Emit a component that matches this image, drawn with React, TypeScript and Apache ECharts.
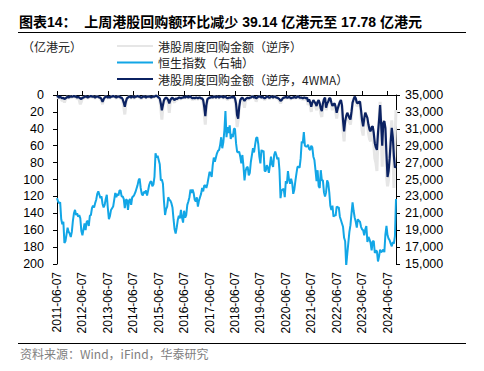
import React, { useEffect, useRef } from 'react';
import * as echarts from 'echarts';

// ---------- categories (semi-monthly dates, 2011-06-07 .. 2024-10-07) ----------
const dates: string[] = [];
for (let k = 0; k < 161; k++) {
  const t = 2011 * 12 + 5 + k;
  const y = Math.floor(t / 12);
  const mm = String((t % 12) + 1).padStart(2, '0');
  dates.push(`${y}-${mm}-07`);
  if (k < 160) dates.push(`${y}-${mm}-21`);
}

// ---------- 恒生指数 (right axis) ----------
const hsi2011 = [22800, 22400, 22200, 22300, 20300, 19700, 20000, 17500, 17700, 18500, 19300, 18800, 18600, 18200];
const hsi2012 = [18800, 20100, 21000, 21400, 20800, 21000, 20600, 20800, 20400, 18900, 18400, 19100, 19800, 19000, 20000, 20100, 19500, 20700, 20800, 21600, 21900, 21700, 22200, 22600];
const hsi2013 = [23300, 23600, 23200, 22800, 23000, 22100, 21700, 22000, 22700, 23200, 21600, 20300, 20700, 21400, 21600, 21800, 22600, 23400, 22900, 23300, 23100, 23700, 23700, 23000];
const hsi2014 = [23000, 22700, 21600, 22600, 22600, 21400, 22500, 22700, 22000, 22900, 23000, 23200, 23500, 23900, 24300, 24900, 25100, 24000, 23300, 23100, 23550, 23400, 23700, 23100];
const hsi2015 = [23700, 24350, 24700, 24800, 24200, 24400, 25300, 28100, 27600, 27800, 27300, 26800, 24900, 25000, 24500, 22400, 20800, 21500, 21800, 22900, 22600, 22500, 22200, 21700];
const hsi2016 = [20300, 19100, 18600, 19300, 20200, 20700, 20400, 21400, 20500, 19900, 21300, 20500, 20800, 22000, 22400, 22900, 23800, 23400, 23800, 23400, 22600, 22400, 22900, 21800];
const hsi2017 = [22500, 22900, 23300, 24000, 23600, 24300, 24300, 24000, 24500, 25200, 25900, 25700, 25300, 26700, 27600, 27100, 27600, 28100, 28400, 28500, 29100, 30000, 28700, 29400];
const hsi2018 = [30800, 33100, 30000, 31200, 30500, 31400, 29800, 30400, 30000, 31000, 31000, 29300, 28300, 28200, 28300, 27700, 26900, 27900, 26600, 24900, 26000, 26400, 26500, 25500];
const hsi2019 = [25800, 27100, 27900, 28700, 28200, 29100, 29900, 30000, 29200, 27700, 26900, 28500, 28300, 28400, 26000, 26000, 26700, 26400, 25800, 26700, 27700, 26800, 26500, 27900];
const hsi2020 = [28300, 27900, 27400, 27600, 26100, 22800, 23700, 23800, 23900, 22900, 24800, 24500, 26000, 25000, 24500, 25100, 24600, 23300, 23800, 24800, 25700, 26500, 26500, 26400];
const hsi2021 = [27500, 29500, 29300, 30600, 29000, 28900, 28900, 29100, 28600, 28500, 29000, 28800, 27700, 27300, 26100, 24800, 26100, 24200, 24000, 26100, 24900, 24900, 23500, 23000];
const hsi2022 = [23500, 24900, 24600, 23500, 21900, 21400, 21900, 20600, 20800, 20700, 21800, 21700, 21700, 20600, 20200, 19800, 19400, 18100, 17700, 14800, 16200, 17500, 18800, 19600];
const hsi2023 = [21000, 22300, 21300, 20500, 20000, 19300, 20300, 20100, 20000, 19400, 19100, 19000, 18400, 19100, 19500, 17600, 18200, 17900, 17500, 16600, 17700, 17700, 16300, 16600];
const hsi2024 = [16500, 15300, 15900, 16700, 16400, 16500, 16700, 16400, 18500, 19500, 18400, 18000, 17800, 17400, 17100, 17600, 17400, 18300, 22700];

// ---------- 港股周度回购金额（逆序） raw, 亿港元 ----------
const raw2011 = [2, 3, 4, 2, 5, 7, 4, 9, 5, 3, 2, 4, 2, 3];
const raw2012 = [3, 2, 1, 3, 2, 5, 3, 6, 11, 8, 3, 4, 2, 3, 2, 4, 3, 2, 1, 3, 2, 3, 4, 2];
const raw2013 = [2, 3, 3, 4, 7, 11, 5, 3, 2, 3, 4, 2, 4, 2, 2, 1, 2, 3, 4, 2, 2, 3, 4, 4];
const raw2014 = [7, 14, 23, 10, 4, 3, 2, 3, 4, 2, 3, 4, 2, 2, 1, 2, 3, 4, 4, 2, 3, 2, 4, 2];
const raw2015 = [2, 3, 2, 4, 2, 3, 2, 1, 1, 2, 4, 6, 16, 29, 14, 7, 5, 4, 6, 10, 21, 7, 5, 4];
const raw2016 = [7, 9, 5, 6, 5, 3, 4, 5, 3, 4, 2, 4, 2, 3, 4, 2, 3, 4, 6, 3, 5, 4, 4, 5];
const raw2017 = [4, 3, 5, 5, 9, 22, 35, 14, 6, 4, 3, 4, 2, 4, 2, 2, 4, 2, 3, 4, 2, 3, 2, 4];
const raw2018 = [2, 3, 4, 6, 3, 4, 3, 2, 4, 2, 6, 16, 38, 30, 15, 7, 4, 4, 8, 15, 6, 5, 4, 5];
const raw2019 = [4, 3, 2, 2, 4, 2, 8, 4, 2, 3, 2, 4, 2, 4, 6, 4, 2, 3, 4, 4, 2, 3, 4, 2];
const raw2020 = [2, 4, 3, 5, 7, 10, 7, 5, 3, 4, 2, 4, 3, 2, 4, 5, 3, 4, 2, 4, 3, 2, 3, 4];
const raw2021 = [4, 3, 6, 4, 3, 6, 3, 12, 6, 12, 20, 11, 7, 10, 13, 18, 9, 7, 13, 22, 26, 12, 6, 3];
const raw2022 = [18, 12, 9, 3, 5, 12, 18, 12, 11, 19, 28, 18, 12, 9, 6, 16, 42, 55, 35, 27, 22, 28, 32, 35];
const raw2023 = [25, 10, 5, 2, 5, 13, 12, 9, 8, 25, 42, 48, 30, 20, 28, 33, 45, 52, 55, 42, 40, 58, 75, 80];
const raw2024 = [90, 50, 28, 8, 45, 85, 30, 35, 50, 95, 108, 100, 70, 45, 30, 60, 110, 56.92, 17.78];

// ---------- 港股周度回购金额（逆序，4WMA） ----------
const wma2011 = [1, 2, 3, 2, 3, 4, 3, 5, 4, 3, 2, 3, 2, 2];
const wma2012 = [2, 2, 1, 2, 2, 3, 2, 3, 4, 5, 3, 3, 2, 2, 2, 3, 2, 2, 1, 2, 2, 2, 3, 2];
const wma2013 = [2, 2, 3, 3, 5, 8, 5, 3, 2, 2, 3, 2, 3, 2, 2, 1, 2, 2, 3, 2, 2, 2, 3, 3];
const wma2014 = [5, 9, 14, 8, 4, 3, 2, 2, 3, 2, 2, 3, 2, 2, 1, 2, 2, 3, 3, 2, 2, 2, 3, 2];
const wma2015 = [2, 2, 2, 3, 2, 2, 2, 1, 1, 2, 3, 4, 10, 18, 12, 6, 4, 3, 4, 6, 10, 6, 4, 3];
const wma2016 = [5, 6, 4, 5, 4, 3, 3, 4, 3, 3, 2, 3, 2, 2, 3, 2, 2, 3, 4, 3, 4, 3, 3, 4];
const wma2017 = [3, 3, 4, 4, 6, 14, 25, 12, 5, 4, 3, 3, 2, 3, 2, 2, 3, 2, 2, 3, 2, 2, 2, 3];
const wma2018 = [2, 2, 3, 4, 3, 3, 3, 2, 3, 2, 4, 10, 24, 28, 14, 6, 4, 3, 5, 7, 5, 4, 3, 4];
const wma2019 = [3, 3, 2, 2, 3, 2, 4, 3, 2, 2, 2, 3, 2, 3, 4, 3, 2, 2, 3, 3, 2, 2, 3, 2];
const wma2020 = [2, 3, 3, 4, 5, 7, 6, 4, 3, 3, 2, 3, 3, 2, 3, 4, 3, 3, 2, 3, 3, 2, 2, 3];
const wma2021 = [3, 3, 4, 3, 3, 4, 3, 8, 5, 9, 14, 9, 6, 8, 10, 13, 8, 6, 10, 16, 19, 10, 5, 3];
const wma2022 = [15, 10, 8, 4, 4, 9, 13, 11, 10, 14, 21, 16, 12, 8, 6, 12, 30, 43, 31, 25, 21, 24, 27, 29];
const wma2023 = [20, 9, 5, 2, 4, 9, 10, 8, 8, 18, 30, 37, 28, 21, 24, 27, 35, 41, 43, 38, 37, 45, 57, 62];
const wma2024 = [65, 45, 30, 12, 35, 60, 33, 31, 39, 70, 97, 90, 75, 55, 39, 50, 72, 86, 84];

const hsi = [...hsi2011, ...hsi2012, ...hsi2013, ...hsi2014, ...hsi2015, ...hsi2016, ...hsi2017, ...hsi2018, ...hsi2019, ...hsi2020, ...hsi2021, ...hsi2022, ...hsi2023, ...hsi2024];
const raw = [...raw2011, ...raw2012, ...raw2013, ...raw2014, ...raw2015, ...raw2016, ...raw2017, ...raw2018, ...raw2019, ...raw2020, ...raw2021, ...raw2022, ...raw2023, ...raw2024];
const wma = [...wma2011, ...wma2012, ...wma2013, ...wma2014, ...wma2015, ...wma2016, ...wma2017, ...wma2018, ...wma2019, ...wma2020, ...wma2021, ...wma2022, ...wma2023, ...wma2024];

// ---------- tick labels ----------
const rightTicks = [15000, 17000, 19000, 21000, 23000, 25000, 27000, 29000, 31000, 33000, 35000];

const TITLE = '图表14：  上周港股回购额环比减少 39.14 亿港元至 17.78 亿港元';
const L1 = '港股周度回购金额（逆序）';
const L2 = '恒生指数（右轴）';
const L3 = '港股周度回购金额（逆序，4WMA）';
const UNIT = '（亿港元）';
const SOURCE = '资料来源：Wind，iFind，华泰研究';

const FONT = "'Liberation Sans', Arial, 'Noto Sans CJK SC', sans-serif";
const CJK = "'Noto Sans CJK SC', 'Liberation Sans', sans-serif";

const yearFilter = (_i: number, v: string) => v.endsWith('-06-07');

export default function App() {
  const ref = useRef<HTMLDivElement>(null);
  useEffect(() => {
    const chart = echarts.init(ref.current!, null, { renderer: 'svg' });
    chart.setOption({
      animation: false,
      backgroundColor: '#ffffff',
      title: {
        text: TITLE,
        left: 19,
        top: 15,
        padding: 0,
        textStyle: { fontSize: 14, fontWeight: 'bold', color: '#000', fontFamily: FONT },
      },
      legend: {
        orient: 'vertical',
        left: 117,
        top: 39,
        padding: 0,
        itemWidth: 36,
        itemHeight: 2,
        itemGap: 2.5,
        textStyle: { fontSize: 12, color: '#222', fontFamily: CJK, lineHeight: 14 },
        data: [
          { name: L1, icon: 'rect' },
          { name: L2, icon: 'rect' },
          { name: L3, icon: 'rect' },
        ],
      },
      grid: { left: 57, right: 88, top: 95, bottom: 107 },
      xAxis: {
        type: 'category',
        data: dates,
        boundaryGap: false,
        axisLine: { lineStyle: { color: '#000', width: 1 } },
        axisTick: { show: true, inside: true, length: 4, interval: yearFilter, lineStyle: { color: '#000' } },
        axisLabel: { interval: yearFilter, rotate: 90, fontSize: 12, color: '#000', margin: 8, fontFamily: FONT },
        splitLine: { show: false },
      },
      yAxis: [
        {
          type: 'value',
          min: 0,
          max: 200,
          interval: 20,
          inverse: true,
          position: 'left',
          axisLine: { show: true, lineStyle: { color: '#000', width: 1 } },
          axisTick: { show: true, length: 4, lineStyle: { color: '#000' } },
          axisLabel: { fontSize: 12.5, color: '#000', margin: 13, fontFamily: FONT },
          splitLine: { show: false },
        },
        {
          type: 'value',
          min: 15000,
          max: 35000,
          position: 'right',
          axisLine: { show: true, lineStyle: { color: '#000', width: 1 } },
          axisTick: { show: true, length: 4, customValues: rightTicks, lineStyle: { color: '#000' } },
          axisLabel: {
            customValues: rightTicks,
            fontSize: 12.5,
            color: '#000',
            margin: 9,
            fontFamily: FONT,
            formatter: (v: number) => v.toLocaleString('en-US'),
          },
          splitLine: { show: false },
        },
      ],
      graphic: [
        { type: 'line', shape: { x1: 18, y1: 32.5, x2: 466, y2: 32.5 }, style: { stroke: '#000', lineWidth: 1.2 } },
        { type: 'line', shape: { x1: 18, y1: 343.5, x2: 466, y2: 343.5 }, style: { stroke: '#000', lineWidth: 1.2 } },
        { type: 'text', left: 22, top: 40, style: { text: UNIT, fill: '#222', font: `12px ${CJK}` } },
        { type: 'text', left: 20, top: 347, style: { text: SOURCE, fill: '#808080', font: `12px ${CJK}` } },
      ],
      series: [
        {
          name: L1,
          type: 'line',
          yAxisIndex: 0,
          data: raw,
          symbol: 'none',
          z: 1,
          lineStyle: { color: '#e6e6e6', width: 3 },
          itemStyle: { color: '#e6e6e6' },
        },
        {
          name: L2,
          type: 'line',
          yAxisIndex: 1,
          data: hsi,
          symbol: 'none',
          z: 2,
          lineStyle: { color: '#12a6e6', width: 2 },
          itemStyle: { color: '#12a6e6' },
        },
        {
          name: L3,
          type: 'line',
          yAxisIndex: 0,
          data: wma,
          symbol: 'none',
          z: 3,
          lineStyle: { color: '#0b2262', width: 2.2 },
          itemStyle: { color: '#0b2262' },
        },
      ],
    });
    return () => chart.dispose();
  }, []);
  return <div ref={ref} style={{ position: 'absolute', left: 0, top: 0, width: 484, height: 371 }} />;
}
